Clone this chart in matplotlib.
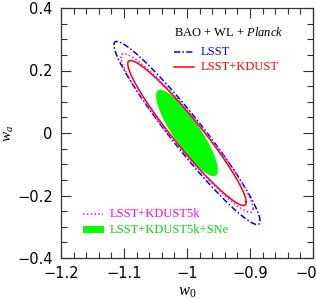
import numpy as np
import matplotlib
matplotlib.use("Agg")
import matplotlib.pyplot as plt
from matplotlib.patches import Rectangle
from matplotlib.ticker import MultipleLocator

# ---- data: forecast contours in (w0, wa) ----
labels = ["LSST", "LSST+KDUST", "LSST+KDUST5k", "LSST+KDUST5k+SNe"]
center_w0 = [-1.0, -1.0, -1.0, -1.0]
center_wa = [0.0, 0.0, 0.0, 0.0]
sigma_w0 = [0.116, 0.094, 0.105, 0.049]
sigma_wa = [0.293, 0.232, 0.254, 0.138]
rho = [-0.961, -0.953, -0.956, -0.858]

x_ticks = [-1.2, -1.1, -1.0, -0.9, -0.8]
x_tick_labels = ["\u22121.2", "\u22121.1", "\u22121", "\u22120.9", "\u22120.8"]
y_ticks = [-0.4, -0.2, 0.0, 0.2, 0.4]
y_tick_labels = ["\u22120.4", "\u22120.2", "0", "0.2", "0.4"]

plt.rcParams['mathtext.fontset'] = 'custom'
plt.rcParams['mathtext.rm'] = 'Liberation Serif'
plt.rcParams['mathtext.it'] = 'Liberation Serif:italic'

def ellipse(i, n=400):
    C = np.array([[sigma_w0[i]**2, rho[i]*sigma_w0[i]*sigma_wa[i]],
                  [rho[i]*sigma_w0[i]*sigma_wa[i], sigma_wa[i]**2]])
    L = np.linalg.cholesky(C)
    t = np.linspace(0, 2*np.pi, n)
    pts = L @ np.vstack([np.cos(t), np.sin(t)])
    return center_w0[i] + pts[0], center_wa[i] + pts[1]

fig = plt.figure(figsize=(3.16, 2.99), dpi=100)
ax = fig.add_axes([61/316, 41/299, 252/316, 250/299])

blue = (0.0, 0.0, 1.0)
red = (1.0, 0.0, 0.0)
mag = (1.0, 0.0, 1.0)
green = (0.0, 1.0, 0.0)

styles = [dict(color=blue, ls=(0, (4, 1.5, 1, 1.5)), lw=1.1),
          dict(color=red, ls='-', lw=1.1),
          dict(color=mag, ls=(0, (1, 1.5)), lw=1.1)]

x, y = ellipse(3)
ax.fill(x, y, color=green, lw=0, zorder=1)
for i in range(3):
    x, y = ellipse(i)
    ax.plot(x, y, zorder=2, **styles[i])

ax.set_xlim(-1.2, -0.8)
ax.set_ylim(-0.4, 0.4)
ax.set_xticks(x_ticks)
ax.set_xticklabels(x_tick_labels)
ax.set_yticks(y_ticks)
ax.set_yticklabels(y_tick_labels)
ax.xaxis.set_minor_locator(MultipleLocator(0.02))
ax.yaxis.set_minor_locator(MultipleLocator(0.05))
ax.tick_params(which='both', direction='in', top=True, right=True, width=0.8, color='#333333')
ax.tick_params(which='major', length=7, labelsize=10.5, pad=6)
ax.tick_params(which='minor', length=4)
for sp in ax.spines.values():
    sp.set_linewidth(0.9)
    sp.set_color('#333333')

ax.set_xlabel(r"$w_0$", fontsize=12)
ax.set_ylabel(r"$w_a$", fontsize=11)
ax.xaxis.set_label_coords(0.5, -0.094)
ax.yaxis.set_label_coords(-0.180, 0.5)

serif = 'Liberation Serif'
tr = ax.transAxes
ax.text(0.448, 0.90, r"BAO + WL + $\mathit{Planck}$", transform=tr, fontsize=9,
        family=serif, va='center', ha='left')
ax.plot([0.448, 0.528], [0.824, 0.824], transform=tr, **styles[0])
ax.text(0.556, 0.824, labels[0], transform=tr, fontsize=9, family=serif,
        va='center', color=blue)
ax.plot([0.448, 0.528], [0.765, 0.765], transform=tr, **styles[1])
ax.text(0.556, 0.765, labels[1], transform=tr, fontsize=9, family=serif,
        va='center', color=red)

ax.plot([0.087, 0.167], [0.176, 0.176], transform=tr, **styles[2])
ax.text(0.194, 0.176, labels[2], transform=tr, fontsize=9, family=serif,
        va='center', color=mag)
ax.add_patch(Rectangle((0.087, 0.100), 0.083, 0.028, transform=tr,
                       color=green, lw=0))
ax.text(0.194, 0.113, labels[3], transform=tr, fontsize=9, family=serif,
        va='center', color=(0.0, 0.85, 0.0))

fig.savefig("out.png", dpi=100)
